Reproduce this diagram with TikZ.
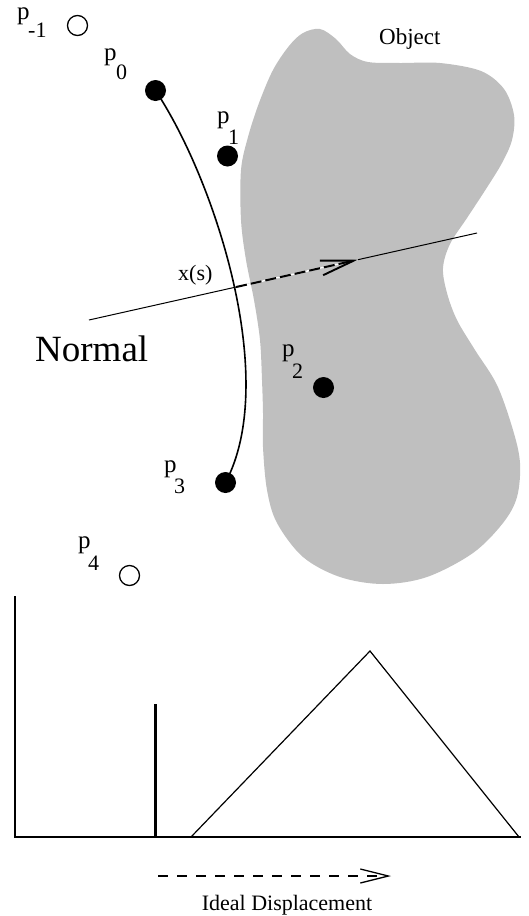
\documentclass[tikz,border=0pt]{standalone}
\usepackage{fontspec}
\setmainfont{Liberation Serif}
\usetikzlibrary{arrows.meta,calc}
\begin{document}
\begin{tikzpicture}[x=1pt,y=-1pt,
  plab/.style={font=\fontsize{25}{25}\selectfont, anchor=base west, inner sep=0pt},
  sublab/.style={font=\fontsize{22}{22}\selectfont, anchor=base west, inner sep=0pt},
  fdot/.style={circle, fill=black, inner sep=0pt, minimum size=21pt},
  odot/.style={circle, draw=black, line width=1.3pt, fill=white, inner sep=0pt, minimum size=20pt},
  thinline/.style={line width=1pt},
  barb/.style={-{Straight Barb[length=#1, width=15pt, line width=1.9pt]}}
]
\useasboundingbox (0,0) rectangle (529,916);
% object
\fill[black!25] plot[smooth cycle, tension=0.55] coordinates {
 (320,29) (336,39) (350,54) (368,62) (400,63) (440,63) (481,71) (504,89)
 (514,115) (512,140) (502,163) (486,189) (467,218) (450,244) (443,268) (447,293)
 (457,320) (475,350) (497,385) (513,430) (520,463) (517,497) (503,523)
 (473,553) (427,577) (383,584) (340,577) (303,557) (277,523) (267,490)
 (263,447) (263,413) (262,380) (260,340) (254,300) (246,260) (241,220)
 (241,170) (248,137) (259,103) (273,70) (289,46) (303,33)};
\node[anchor=base west, inner sep=0pt, font=\fontsize{23}{23}\selectfont] (obj) at (379,44) {Object};

% normal line
\coordinate (nl) at (89,320);
\coordinate (nr) at (477,233);
\draw[thinline] (nl) -- (nr);
\coordinate (xs) at ($(nl)!0.379!(nr)$);
\coordinate (tip) at ($(nl)!0.693!(nr)$);
\draw[white, line width=1.6pt] (xs) -- (tip);
\draw[line width=2pt, dash pattern=on 11pt off 4pt, barb=33pt] (xs) -- (tip);
\node[anchor=base west, inner sep=0pt, font=\fontsize{22}{22}\selectfont] (xslab) at (178,280) {x(s)};
\node[anchor=base west, inner sep=0pt, font=\fontsize{37}{37}\selectfont] (normal) at (35,361) {Normal};

% points
\node[odot] (pm1) at (77.5,25.5) {};
\node[fdot] (p0) at (155.5,90.5) {};
\node[fdot] (p1) at (227.5,156) {};
\node[fdot] (p2) at (323.5,387.5) {};
\node[fdot] (p3) at (225.5,482.5) {};
\node[odot] (p4) at (129.5,575.5) {};

% curve
\draw[line width=1.6pt] (p0.center) .. controls (215,180) and (280,380) .. (p3.center);

% labels
\node[plab] (lm1) at (17,19) {p};   \node[sublab] (sm1) at (28,37) {-1};
\node[plab] (l0) at (104,60) {p};   \node[sublab] (s0) at (116,79) {0};
\node[plab] (l1) at (217,123) {p};  \node[sublab] (s1) at (228,144) {1};
\node[plab] (l2) at (282,356) {p};  \node[sublab] (s2) at (292,378) {2};
\node[plab] (l3) at (164,472) {p};  \node[sublab] (s3) at (174,493) {3};
\node[plab] (l4) at (78,548) {p};   \node[sublab] (s4) at (88,570) {4};

% bottom graph
\coordinate (ytop) at (15,596);
\coordinate (orig) at (15,837);
\coordinate (xend) at (521,837);
\draw[line width=1.5pt] (ytop) -- (orig) -- (xend);
\coordinate (bartop) at (155,704);
\coordinate (barbot) at (155,837);
\draw[line width=3pt] (barbot) -- (bartop);
\coordinate (tl) at (191,837);
\coordinate (ta) at (370,651);
\coordinate (tr) at (519,837);
\draw[line width=1.2pt, line join=miter] (tl) -- (ta) -- (tr);
\coordinate (da) at (158,876);
\coordinate (db) at (391,876);
\draw[line width=1.3pt, dash pattern=on 10pt off 9pt, -{Straight Barb[length=28pt, width=14pt, line width=1.3pt]}] (da) -- (db);
\node[anchor=base, inner sep=0pt, font=\fontsize{22}{22}\selectfont] (ideal) at (287,910) {Ideal Displacement};
\end{tikzpicture}
\end{document}
